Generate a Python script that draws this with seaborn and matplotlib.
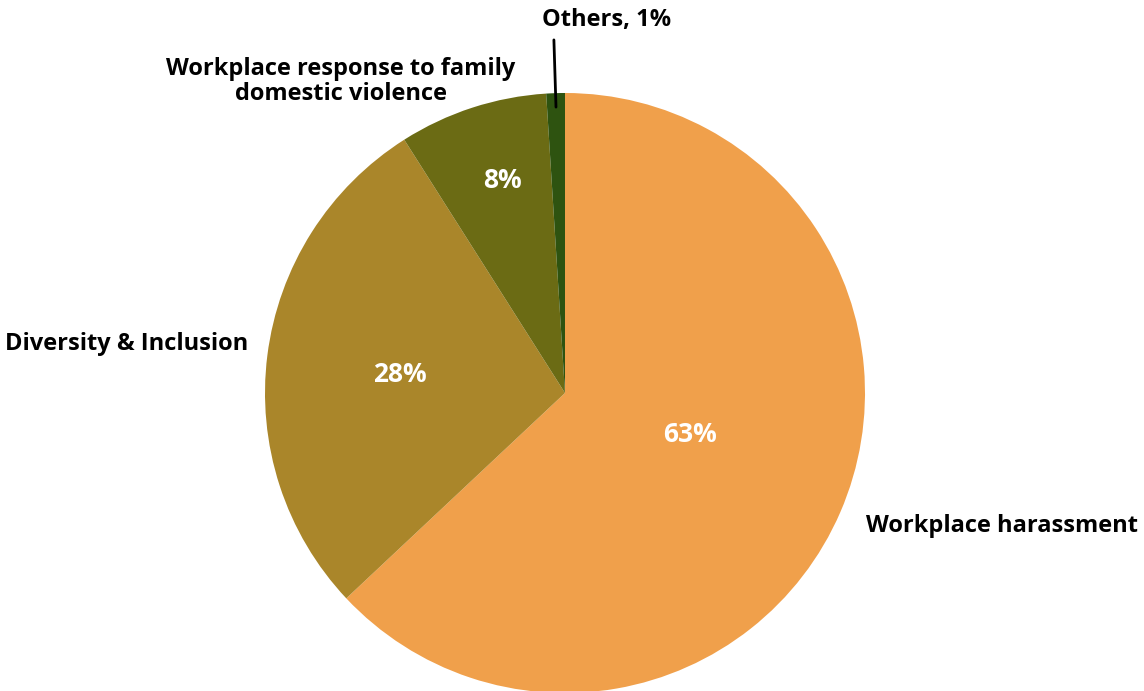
import matplotlib
matplotlib.use("Agg")
import matplotlib.pyplot as plt
import seaborn as sns

categories = ["Workplace harassment", "Diversity & Inclusion",
              "Workplace response to family\ndomestic violence", "Others"]
shares = [63, 28, 8, 1]
colors = ["#F0A04B", "#AA862A", "#6B6B14", "#2E5310"]

sns.set_style("white")
plt.rcParams['font.family'] = ['Open Sans', 'DejaVu Sans']

fig = plt.figure(figsize=(11.44, 6.91), dpi=100)
# pie centre at (565, 393) px, radius 300 px
ax = fig.add_axes([265 / 1144, (691 - 393 - 300) / 691, 600 / 1144, 600 / 691])

wedges, texts, autotexts = ax.pie(
    shares, colors=colors, startangle=90, counterclock=False, radius=1,
    autopct=lambda p: f"{p:.0f}%" if p >= 5 else "",
    textprops=dict(color="white", fontsize=19, fontweight="bold"),
    wedgeprops=dict(linewidth=0),
)
ax.set_xlim(-1, 1)
ax.set_ylim(-1, 1)
ax.set_aspect("equal")

# percentage positions inside the slices
pct_pos = [(0.417, -0.137), (-0.55, 0.063), (-0.207, 0.707)]
for t, pos in zip(autotexts, pct_pos):
    t.set_position(pos)
    t.set_ha("center")
    t.set_va("center")

lab = dict(fontsize=17, fontweight="bold", color="black", clip_on=False)
ax.text(1.003, -0.443, categories[0], ha="left", va="center", **lab)
ax.text(-1.057, 0.163, categories[1], ha="right", va="center", **lab)
ax.text(-0.747, 1.037, categories[2], ha="center", va="center",
        linespacing=1.05, **lab)
ax.text(0.137, 1.243, f"{categories[3]}, {shares[3]}%", ha="center", va="center", **lab)
ax.plot([-0.03, -0.037], [0.953, 1.177], color="black", lw=2, clip_on=False)

fig.savefig("out.png", dpi=100)
